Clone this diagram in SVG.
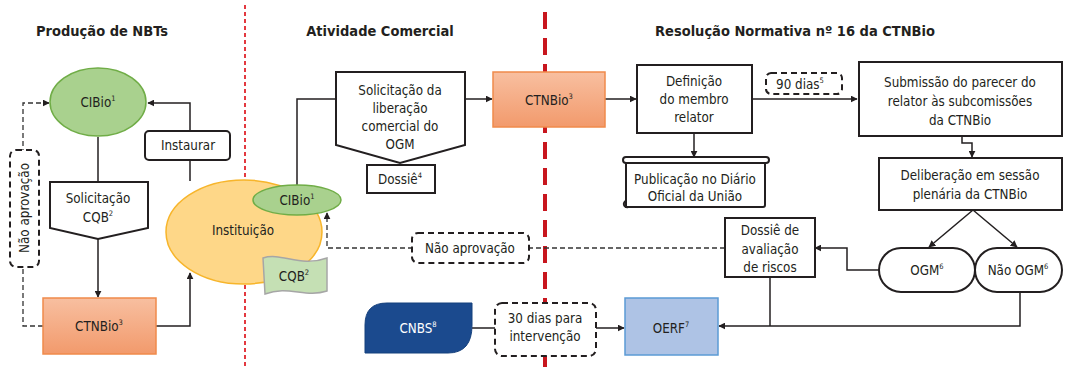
<svg xmlns="http://www.w3.org/2000/svg" width="1065" height="367" viewBox="0 0 1065 367">
<style>
text{font-family:"DejaVu Sans Condensed","DejaVu Sans",sans-serif;font-stretch:condensed;font-size:13.3px;fill:#231f20;text-anchor:middle}
.t{font-weight:bold;font-size:14.5px}
.sup{font-size:7.5px}
.box{fill:#fff;stroke:#231f20;stroke-width:2}
.ln{fill:none;stroke:#231f20;stroke-width:1.5}
.dl{fill:none;stroke:#333;stroke-width:1.3;stroke-dasharray:5,3}
.db{fill:#fff;stroke:#231f20;stroke-width:2;stroke-dasharray:6,4}
.ctn{fill:url(#gOr);stroke:#f08a4b;stroke-width:1.5}
.cib{fill:#a9d18e;stroke:#70ad47;stroke-width:1.5}
</style>
<defs>
<linearGradient id="gOr" x1="0" y1="0" x2="0" y2="1"><stop offset="0" stop-color="#f8bfa0"/><stop offset="1" stop-color="#f29a6c"/></linearGradient>
<marker id="ar" viewBox="0 0 10 10" refX="9" refY="5" markerWidth="7" markerHeight="7" orient="auto" markerUnits="userSpaceOnUse"><path d="M0,0 L10,5 L0,10 z" fill="#231f20"/></marker>
</defs>

<!-- dividers -->
<line x1="245" y1="5" x2="245" y2="367" stroke="#e0242c" stroke-width="1.8" stroke-dasharray="4,3"/>
<line x1="545" y1="12" x2="545" y2="367" stroke="#c8161e" stroke-width="4" stroke-dasharray="17,9"/>

<!-- titles -->
<text class="t" x="102" y="36">Produção de NBTs</text>
<text class="t" x="380" y="36">Atividade Comercial</text>
<text class="t" x="795" y="36">Resolução Normativa nº 16 da CTNBio</text>

<!-- connectors -->
<g id="connectors">
<line class="ln" x1="98" y1="137" x2="98" y2="182"/>
<line class="ln" x1="98" y1="239" x2="98" y2="297" marker-end="url(#ar)"/>
<polyline class="ln" points="156,326 190,326 190,273" marker-end="url(#ar)"/>
<polyline class="ln" points="190,181 190,103 148,103" marker-end="url(#ar)"/>
<polyline class="dl" points="43,326 23,326 23,103 49,103" marker-end="url(#ar)"/>
<polyline class="ln" points="297,185 297,99 336,99"/>
<line class="ln" x1="465" y1="99" x2="492" y2="99" marker-end="url(#ar)"/>
<line class="ln" x1="605" y1="99" x2="636" y2="99" marker-end="url(#ar)"/>
<line class="ln" x1="694" y1="133" x2="694" y2="157" marker-end="url(#ar)"/>
<line class="ln" x1="752" y1="99" x2="857" y2="99" marker-end="url(#ar)"/>
<polyline class="ln" points="962,136 962,143 972,143 972,157" marker-end="url(#ar)"/>
<line class="ln" x1="973" y1="210" x2="929" y2="247" marker-end="url(#ar)"/>
<line class="ln" x1="973" y1="210" x2="1017" y2="247" marker-end="url(#ar)"/>
<polyline class="ln" points="879,270 847,270 847,248 815,248" marker-end="url(#ar)"/>
<line class="ln" x1="770" y1="277" x2="770" y2="326"/>
<polyline class="ln" points="1020,292 1020,326 719,326" marker-end="url(#ar)"/>
<polyline class="dl" points="725,248 327,248 327,213" marker-end="url(#ar)"/>
<line class="ln" x1="472" y1="328" x2="495" y2="328"/>
<line class="ln" x1="596" y1="328" x2="624" y2="328" marker-end="url(#ar)"/>
</g>

<!-- left section -->
<g id="cibio1">
<ellipse class="cib" cx="98" cy="102" rx="48" ry="34"/>
<text x="98" y="107">CIBio<tspan class="sup" dy="-6">1</tspan></text>
</g>
<g id="solic-cqb">
<polygon class="box" points="50,182 148,182 148,228 98,239 50,228"/>
<text x="98" y="203">Solicitação</text>
<text x="98" y="222">CQB<tspan class="sup" dy="-6">2</tspan></text>
</g>
<g id="ctnbio1">
<rect class="ctn" x="43" y="298" width="113" height="56"/>
<text x="99" y="331">CTNBio<tspan class="sup" dy="-6">3</tspan></text>
</g>
<g id="instaurar">
<rect class="box" x="145" y="131" width="85" height="29" rx="4"/>
<text x="188" y="150">Instaurar</text>
</g>
<g id="nao-aprov-1">
<rect class="db" x="10" y="150" width="29" height="117" rx="6"/>
<text x="0" y="0" transform="translate(29,208) rotate(-90)">Não aprovação</text>
</g>

<!-- institution -->
<g id="instituicao">
<ellipse cx="244" cy="232" rx="78" ry="52" fill="#fed788" stroke="#f7b52b" stroke-width="1.5"/>
<text x="243" y="235">Instituição</text>
</g>
<g id="cibio2">
<ellipse class="cib" cx="297" cy="200" rx="44" ry="15"/>
<text x="297" y="205">CIBio<tspan class="sup" dy="-6">1</tspan></text>
</g>
<g id="cqb">
<path d="M263,258 C282,252 300,268 327,258 L327,291 C305,298 288,285 265,294 Z" fill="#c5e0b4" stroke="#a6a6a6" stroke-width="1.5"/>
<text x="294" y="281">CQB<tspan class="sup" dy="-6">2</tspan></text>
</g>

<!-- commercial -->
<g id="solic-lib">
<polygon class="box" points="336,72 465,72 465,145 400,163 336,145"/>
<text x="400" y="95">Solicitação da</text>
<text x="400" y="113">liberação</text>
<text x="400" y="131">comercial do</text>
<text x="400" y="149">OGM</text>
</g>
<g id="dossie">
<rect class="box" x="367" y="165" width="68" height="28"/>
<text x="400" y="184">Dossiê<tspan class="sup" dy="-6">4</tspan></text>
</g>
<g id="nao-aprov-2">
<rect class="db" x="412" y="233" width="117" height="30" rx="6"/>
<text x="470" y="253">Não aprovação</text>
</g>
<g id="cnbs">
<path d="M365,353 L365,325 Q365,303 387,303 L472,303 L472,325 Q472,353 448,353 Z" fill="#1b4a8e" stroke="#15407c" stroke-width="1"/>
<text x="418" y="333" style="fill:#fff">CNBS<tspan class="sup" dy="-6">8</tspan></text>
</g>
<g id="trinta-dias">
<rect class="db" x="495" y="303" width="101" height="53" rx="7"/>
<text x="545" y="323">30 dias para</text>
<text x="545" y="341">intervenção</text>
</g>

<!-- RN 16 -->
<g id="ctnbio2">
<rect class="ctn" x="493" y="72" width="112" height="55"/>
<text x="549" y="105">CTNBio<tspan class="sup" dy="-6">3</tspan></text>
</g>
<g id="definicao">
<rect class="box" x="637" y="65" width="115" height="68"/>
<text x="694" y="86">Definição</text>
<text x="694" y="104">do membro</text>
<text x="694" y="122">relator</text>
</g>
<g id="publicacao">
<path class="box" d="M626,163 L765,163 L765,205 Q765,207 763,207 L626,207 Z"/>
<path class="box" d="M626,157 L766,157 A3,3 0 0 1 766,163 L626,163 A3,3 0 0 1 626,157 Z"/>
<path d="M626,201 A3,3 0 1 0 628,207" fill="none" stroke="#231f20" stroke-width="2"/>
<text x="695" y="184">Publicação no Diário</text>
<text x="695" y="201">Oficial da União</text>
</g>
<g id="noventa">
<rect class="db" x="766" y="73" width="76" height="21" rx="5"/>
<text x="800" y="89">90 dias<tspan class="sup" dy="-6">5</tspan></text>
</g>
<g id="submissao">
<rect class="box" x="859" y="62" width="203" height="74"/>
<text x="960" y="87">Submissão do parecer do</text>
<text x="960" y="106">relator às subcomissões</text>
<text x="960" y="125">da CTNBio</text>
</g>
<g id="deliberacao">
<rect class="box" x="879" y="158" width="183" height="52"/>
<text x="970" y="180">Deliberação em sessão</text>
<text x="970" y="199">plenária da CTNBio</text>
</g>
<g id="ogm">
<rect class="box" x="879" y="248" width="96" height="44" rx="22"/>
<text x="927" y="275">OGM<tspan class="sup" dy="-6">6</tspan></text>
</g>
<g id="nao-ogm">
<rect class="box" x="975" y="248" width="87" height="44" rx="22"/>
<text x="1018" y="275">Não OGM<tspan class="sup" dy="-6">6</tspan></text>
</g>
<g id="dossie-riscos">
<rect class="box" x="725" y="218" width="90" height="59"/>
<text x="770" y="235">Dossiê de</text>
<text x="770" y="254">avaliação</text>
<text x="770" y="272">de riscos</text>
</g>
<g id="oerf">
<rect x="625" y="298" width="93" height="57" fill="#aec3e5" stroke="#5b9bd5" stroke-width="1.5"/>
<text x="671" y="333">OERF<tspan class="sup" dy="-6">7</tspan></text>
</g>
</svg>
